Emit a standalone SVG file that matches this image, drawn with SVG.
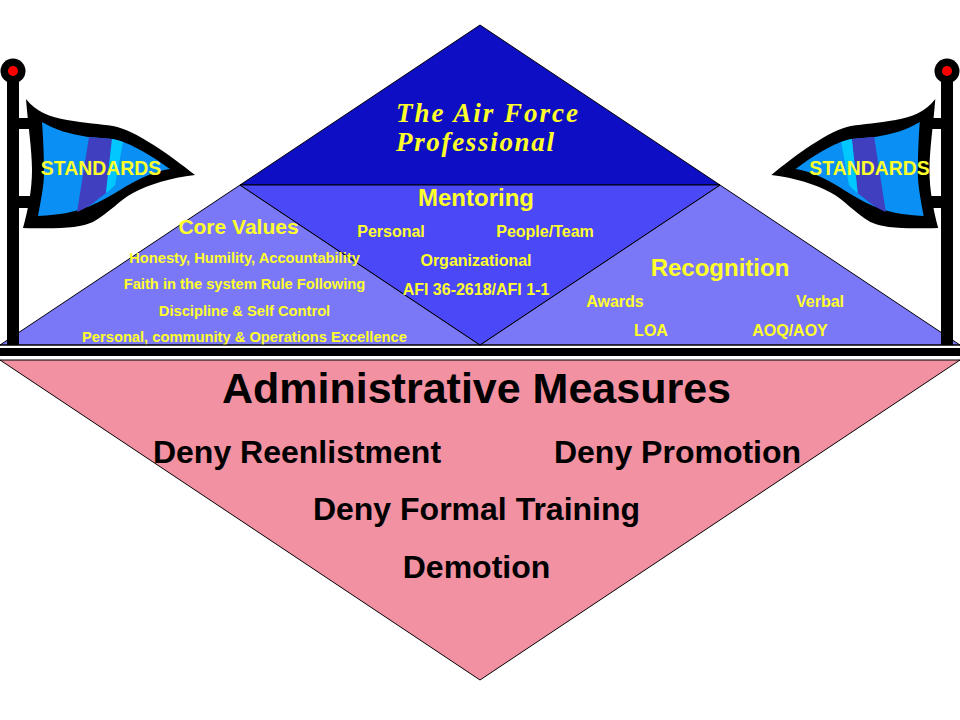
<svg xmlns="http://www.w3.org/2000/svg" width="960" height="720" viewBox="0 0 960 720">
<style>
.s{stroke:#000;stroke-width:1}
text{font-family:"Liberation Sans",Arial,sans-serif;font-weight:bold;text-anchor:middle}
.y{fill:#ffff2a}
.k{fill:#000}
.t{font-family:"Liberation Serif","Times New Roman",serif;font-style:italic;text-anchor:start;font-size:27px}
.a{font-size:16px}.h{font-size:24px}.b{font-size:32px}.v{font-size:14.7px}.f{font-size:19.4px}
</style>
<defs>
<g id="flagshape">
<path fill="#000" d="M26 99C36 112 50 117 67 120C85 123 100 124 113 126C135 130 170 155 195 175C170 178 150 184 133 193C120 200 110 212 93 222C80 228 60 229 23 228C28 210 32 190 32 170C32 150 28 125 26 99Z"/>
<path fill="#0a90f5" d="M42 122C55 130 70 134 88 137C97 138 105 138 113 139C130 142 155 158 170 169C155 171 140 178 125 187C112 195 100 202 90 206C75 212 60 215 38 216C41 200 44 185 44 173C44 155 43 135 42 122Z"/>
<path fill="#3f3fbf" d="M89 137L112 139L106 193C97 200 88 208 77 212Z"/>
<path fill="#00c8ff" d="M112 139C116 140 120 141 123 142L115 185C112 188 109 191 106 193Z"/>
</g>
</defs>
<rect width="960" height="720" fill="#fff"/>
<g id="apex"><polygon class="s" fill="#0e0ec4" points="480,25 720,185 240,185"/>
<text class="t y" x="396" y="122" textLength="182">The Air Force</text>
<text class="t y" x="396" y="151" textLength="158">Professional</text></g>
<g id="core-values"><polygon class="s" fill="#7b78f8" points="0,345 240,185 480,345"/></g>
<g id="recognition"><polygon class="s" fill="#7b78f8" points="480,345 720,185 960,345"/>
<text class="y h" x="720" y="276">Recognition</text>
<text class="y a" x="615" y="307">Awards</text><text class="y a" x="820" y="307">Verbal</text>
<text class="y a" x="651" y="336">LOA</text><text class="y a" x="790" y="336">AOQ/AOY</text></g>
<g id="mentoring"><polygon class="s" fill="#4b48f8" points="240,185 720,185 480,345"/>
<text class="y h" x="476" y="206">Mentoring</text>
<text class="y a" x="391" y="237">Personal</text><text class="y a" x="545" y="237">People/Team</text>
<text class="y a" x="476" y="266">Organizational</text>
<text class="y a" x="476" y="295">AFI 36-2618/AFI 1-1</text></g>
<g id="core-values-text">
<text class="y" style="font-size:21px" x="238.500" y="234">Core Values</text>
<text class="y v" x="244.500" y="263">Honesty, Humility, Accountability</text>
<text class="y v" x="244.500" y="289">Faith in the system Rule Following</text>
<text class="y v" x="244.500" y="316">Discipline &amp; Self Control</text>
<text class="y v" x="244.500" y="342">Personal, community &amp; Operations Excellence</text></g>
<g id="divider"><rect x="0" y="348" width="960" height="8" fill="#000"/>
<line x1="0" y1="345" x2="960" y2="345" stroke="#000"/></g>
<g id="measures"><polygon class="s" fill="#f191a1" points="0,360 960,360 480,680"/>
<text class="k" style="font-size:43px" x="476.500" y="403">Administrative Measures</text>
<text class="k b" x="297" y="463">Deny Reenlistment</text><text class="k b" x="677.500" y="463">Deny Promotion</text>
<text class="k b" x="476.500" y="520">Deny Formal Training</text>
<text class="k b" x="476.500" y="578">Demotion</text></g>
<g id="flag-left">
<rect x="7" y="71" width="12" height="274" fill="#000"/>
<rect x="19" y="118" width="12" height="11" fill="#000"/><rect x="19" y="196" width="12" height="12" fill="#000"/>
<circle cx="13" cy="71" r="12.500" fill="#000"/><circle cx="13" cy="71" r="5" fill="#f00"/>
<use href="#flagshape"/>
<text class="y f" x="101" y="175">STANDARDS</text></g>
<g id="flag-right">
<rect x="941" y="71" width="12" height="274" fill="#000"/>
<rect x="929" y="118" width="12" height="11" fill="#000"/><rect x="929" y="196" width="12" height="12" fill="#000"/>
<circle cx="947" cy="71" r="12.500" fill="#000"/><circle cx="947" cy="71" r="5" fill="#f00"/>
<use href="#flagshape" transform="matrix(-.97 0 0 1 960.5 0)"/>
<text class="y f" x="869.500" y="175">STANDARDS</text></g>
</svg>
